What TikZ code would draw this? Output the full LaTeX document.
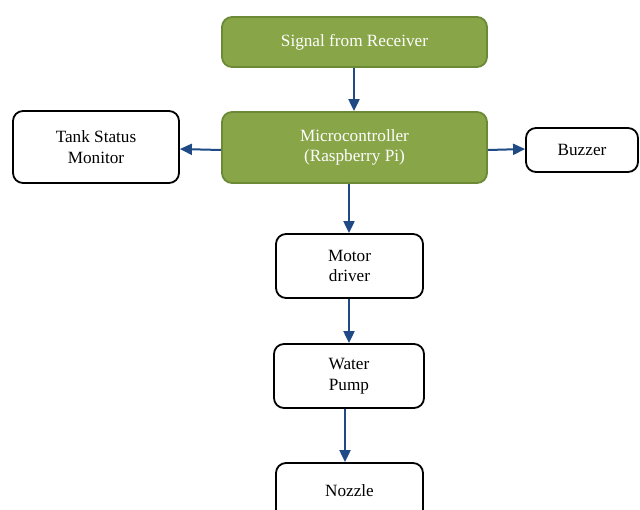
\documentclass[tikz,border=0pt]{standalone}
\usepackage{fontspec}
\setmainfont{Liberation Serif}
\usetikzlibrary{arrows.meta}
\definecolor{gfill}{HTML}{88A548}
\definecolor{gdraw}{HTML}{6C8A36}
\definecolor{arr}{HTML}{1F4A86}
\begin{document}
\begin{tikzpicture}[x=1pt,y=-1pt,
  base/.style={rounded corners=10pt, line width=1.8pt, align=center, inner sep=0pt,
    font=\fontsize{17.2}{20.5}\selectfont},
  greenbox/.style={base, fill=gfill, draw=gdraw, text=white},
  whitebox/.style={base, fill=white, draw=black},
  conn/.style={arr, line width=2pt, -{Triangle[length=12pt,width=11pt]}}]
\useasboundingbox (0,0) rectangle (640,509);
\node[greenbox, minimum width=265pt, minimum height=50pt] (sig) at (354.5,42) {Signal from Receiver};
\node[greenbox, minimum width=265pt, minimum height=71pt] (mc) at (354.5,147.5) {Microcontroller\\(Raspberry Pi)};
\node[whitebox, minimum width=166pt, minimum height=72pt] (tank) at (96,147) {Tank Status\\Monitor};
\node[whitebox, minimum width=112pt, minimum height=44pt] (buz) at (582,150) {Buzzer};
\node[whitebox, minimum width=147pt, minimum height=64pt] (mot) at (349.5,266) {Motor\\driver};
\node[whitebox, minimum width=150pt, minimum height=64pt] (pump) at (349,376) {Water\\Pump};
\node[whitebox, minimum width=147pt, minimum height=64pt, text depth=0pt] (noz) at (349.5,495) {\raisebox{9pt}{Nozzle}};
\draw[conn] (sig.south -| 354,0) -- (mc.north -| 354,0);
\draw[conn] (mc.west |- 0,150) -- (tank.east |- 0,149);
\draw[conn] (mc.east |- 0,150) -- (buz.west |- 0,149);
\draw[conn] (mc.south -| 349,0) -- (mot.north -| 349,0);
\draw[conn] (mot.south -| 349,0) -- (pump.north -| 349,0);
\draw[conn] (pump.south -| 345,0) -- (noz.north -| 345,0);
\end{tikzpicture}
\end{document}
